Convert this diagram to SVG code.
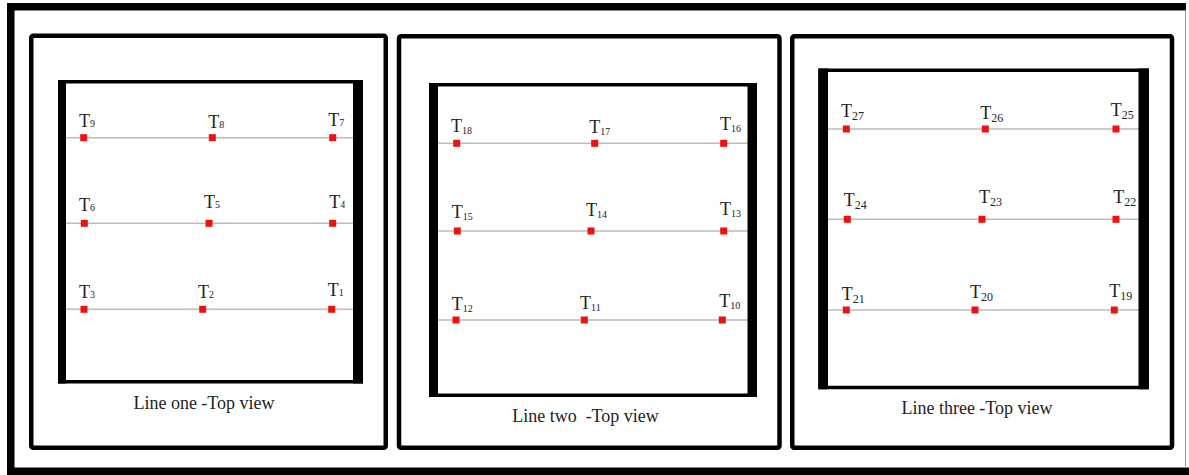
<svg xmlns="http://www.w3.org/2000/svg" width="1189" height="475" viewBox="0 0 1189 475">
<style>
.frame{fill:none;stroke:#000;stroke-width:7.5}
.panel{fill:none;stroke:#000;stroke-width:4.5;rx:2}
.inner{fill:none;stroke:#000;stroke-width:3.5}
.wall{fill:#000}
.row{stroke:#bdbdbd;stroke-width:1.5}
.pt{fill:#ee1111}
.lbl{font-family:"Liberation Serif",serif;font-size:18px;fill:#222}
.sub{font-size:10px}
.sub3{font-size:12px}
.cap{font-family:"Liberation Serif",serif;font-size:18px;fill:#222;text-anchor:middle}
</style>
<rect width="1189" height="475" fill="#fff"/>
<path class="frame" d="M1186,6.75 H10.75 V471.25 H1189"/>
<line x1="1185.5" y1="10" x2="1185.5" y2="468" stroke="#999" stroke-width="1"/>

<g id="lines">
<line class="row" x1="66" y1="137.7" x2="357" y2="137.7"/>
<line class="row" x1="66" y1="223.3" x2="357" y2="223.3"/>
<line class="row" x1="66" y1="309.3" x2="357" y2="309.3"/>
<line class="row" x1="438" y1="143.3" x2="750" y2="143.3"/>
<line class="row" x1="438" y1="231" x2="750" y2="231"/>
<line class="row" x1="438" y1="320" x2="750" y2="320"/>
<line class="row" x1="828" y1="129" x2="1142" y2="129"/>
<line class="row" x1="828" y1="219.3" x2="1142" y2="219.3"/>
<line class="row" x1="828" y1="310" x2="1142" y2="310"/>
</g>

<g id="panel1">
<rect class="panel" x="31.25" y="35.75" width="354.5" height="412"/>
<rect class="inner" x="59.75" y="81.75" width="301.5" height="300"/>
<rect class="wall" x="58" y="80" width="8" height="303.5"/>
<rect class="wall" x="353" y="80" width="10" height="303.5"/>
<text class="cap" x="204" y="408.5">Line one -Top view</text>
</g>

<g id="panel2">
<rect class="panel" x="399" y="36.25" width="380.5" height="411.5"/>
<rect class="inner" x="430.75" y="84.75" width="324" height="310.5"/>
<rect class="wall" x="429" y="83" width="9" height="314"/>
<rect class="wall" x="747.5" y="83" width="9.5" height="314"/>
<text class="cap" x="585.5" y="421.5" xml:space="preserve">Line two  -Top view</text>
</g>

<g id="panel3">
<rect class="panel" x="792.25" y="36.25" width="379.75" height="411.5"/>
<rect class="inner" x="820" y="70.25" width="327" height="317.25"/>
<rect class="wall" x="818.5" y="68.5" width="9.5" height="320.75"/>
<rect class="wall" x="1138.5" y="68.5" width="10.5" height="320.75"/>
<text class="cap" x="977" y="413.5">Line three -Top view</text>
</g>

<g id="T9"><rect class="pt" x="80.2" y="134.2" width="7" height="7"/><text class="lbl" x="79" y="126.7">T<tspan class="sub">9</tspan></text></g>
<g id="T8"><rect class="pt" x="208.8" y="134.2" width="7" height="7"/><text class="lbl" x="208.3" y="128.3">T<tspan class="sub">8</tspan></text></g>
<g id="T7"><rect class="pt" x="329.2" y="134.2" width="7" height="7"/><text class="lbl" x="328.3" y="125.7">T<tspan class="sub">7</tspan></text></g>
<g id="T6"><rect class="pt" x="80.8" y="219.8" width="7" height="7"/><text class="lbl" x="79" y="210.7">T<tspan class="sub">6</tspan></text></g>
<g id="T5"><rect class="pt" x="205.5" y="219.8" width="7" height="7"/><text class="lbl" x="204" y="208.3">T<tspan class="sub">5</tspan></text></g>
<g id="T4"><rect class="pt" x="329.2" y="219.8" width="7" height="7"/><text class="lbl" x="329.3" y="207.7">T<tspan class="sub">4</tspan></text></g>
<g id="T3"><rect class="pt" x="80.5" y="305.8" width="7" height="7"/><text class="lbl" x="79" y="298.3">T<tspan class="sub">3</tspan></text></g>
<g id="T2"><rect class="pt" x="199.2" y="305.8" width="7" height="7"/><text class="lbl" x="198" y="297.7">T<tspan class="sub">2</tspan></text></g>
<g id="T1"><rect class="pt" x="328.2" y="305.8" width="7" height="7"/><text class="lbl" x="327.7" y="296">T<tspan class="sub">1</tspan></text></g>

<g id="T18"><rect class="pt" x="453.2" y="139.8" width="7" height="7"/><text class="lbl" x="451" y="131.7">T<tspan class="sub" dy="2">18</tspan></text></g>
<g id="T17"><rect class="pt" x="591.2" y="139.8" width="7" height="7"/><text class="lbl" x="589.3" y="133.3">T<tspan class="sub" dy="2">17</tspan></text></g>
<g id="T16"><rect class="pt" x="720.2" y="139.8" width="7" height="7"/><text class="lbl" x="720" y="130">T<tspan class="sub" dy="2">16</tspan></text></g>
<g id="T15"><rect class="pt" x="453.8" y="227.5" width="7" height="7"/><text class="lbl" x="451.7" y="217.7">T<tspan class="sub" dy="2">15</tspan></text></g>
<g id="T14"><rect class="pt" x="587.5" y="227.5" width="7" height="7"/><text class="lbl" x="586" y="215.7">T<tspan class="sub" dy="2">14</tspan></text></g>
<g id="T13"><rect class="pt" x="720.2" y="227.5" width="7" height="7"/><text class="lbl" x="720" y="215">T<tspan class="sub" dy="2">13</tspan></text></g>
<g id="T12"><rect class="pt" x="452.5" y="316.5" width="7" height="7"/><text class="lbl" x="451.7" y="310">T<tspan class="sub" dy="2">12</tspan></text></g>
<g id="T11"><rect class="pt" x="580.8" y="316.5" width="7" height="7"/><text class="lbl" x="580" y="309.3">T<tspan class="sub" dy="2">11</tspan></text></g>
<g id="T10"><rect class="pt" x="718.8" y="316.5" width="7" height="7"/><text class="lbl" x="719.3" y="307.3">T<tspan class="sub" dy="2">10</tspan></text></g>

<g id="T27"><rect class="pt" x="842.8" y="125.5" width="7" height="7"/><text class="lbl" x="841" y="117.3">T<tspan class="sub3" dy="3">27</tspan></text></g>
<g id="T26"><rect class="pt" x="981.8" y="125.5" width="7" height="7"/><text class="lbl" x="980.3" y="119">T<tspan class="sub3" dy="3">26</tspan></text></g>
<g id="T25"><rect class="pt" x="1112.5" y="125.5" width="7" height="7"/><text class="lbl" x="1110.7" y="116">T<tspan class="sub3" dy="3">25</tspan></text></g>
<g id="T24"><rect class="pt" x="843.8" y="215.8" width="7" height="7"/><text class="lbl" x="843.7" y="206">T<tspan class="sub3" dy="3">24</tspan></text></g>
<g id="T23"><rect class="pt" x="978.5" y="215.8" width="7" height="7"/><text class="lbl" x="979" y="203.3">T<tspan class="sub3" dy="3">23</tspan></text></g>
<g id="T22"><rect class="pt" x="1112.5" y="215.8" width="7" height="7"/><text class="lbl" x="1113.3" y="203.3">T<tspan class="sub3" dy="3">22</tspan></text></g>
<g id="T21"><rect class="pt" x="842.8" y="306.5" width="7" height="7"/><text class="lbl" x="841.7" y="300">T<tspan class="sub3" dy="3">21</tspan></text></g>
<g id="T20"><rect class="pt" x="971.5" y="306.5" width="7" height="7"/><text class="lbl" x="970" y="298.3">T<tspan class="sub3" dy="3">20</tspan></text></g>
<g id="T19"><rect class="pt" x="1110.8" y="306.5" width="7" height="7"/><text class="lbl" x="1109.3" y="296.7">T<tspan class="sub3" dy="3">19</tspan></text></g>
</svg>
